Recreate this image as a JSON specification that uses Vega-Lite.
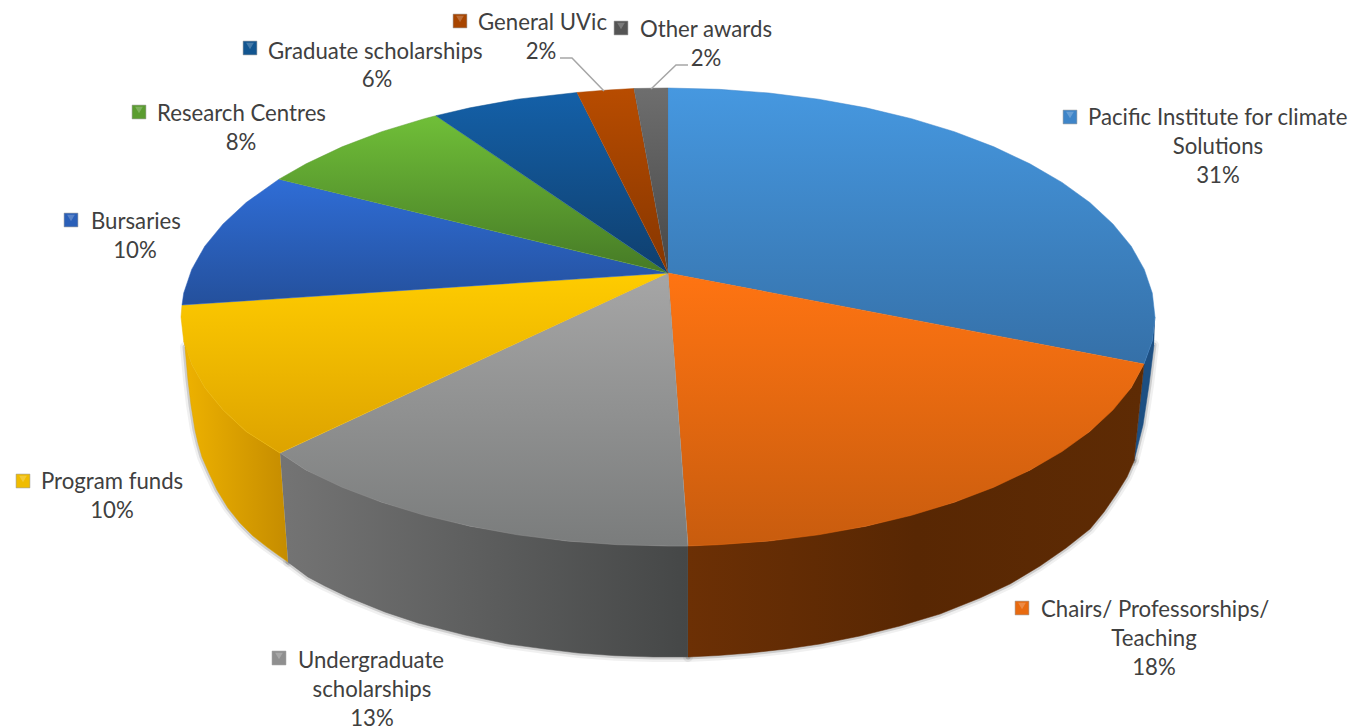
{
"$schema":"https://vega.github.io/schema/vega-lite/v6.json",
"width":1366,"height":727,"padding":0,"autosize":{"type":"none"},"background":"white",
"view":{"stroke":null},
"datasets":{
"outline":[
{"piece":"pacific","i":0,"x":0,"y":0},{"piece":"pacific","i":1,"x":0,"y":185},{"piece":"pacific","i":2,"x":51,"y":183.7},{"piece":"pacific","i":3,"x":101,"y":180},{"piece":"pacific","i":4,"x":150.5,"y":173.8},{"piece":"pacific","i":5,"x":198,"y":165.2},{"piece":"pacific","i":6,"x":243.5,"y":154.3},{"piece":"pacific","i":7,"x":286.3,"y":141.3},{"piece":"pacific","i":8,"x":325.9,"y":126.2},{"piece":"pacific","i":9,"x":361.9,"y":109.2},{"piece":"pacific","i":10,"x":394,"y":90.6},{"piece":"pacific","i":11,"x":421.8,"y":70.5},{"piece":"pacific","i":12,"x":444.9,"y":49.1},{"piece":"pacific","i":13,"x":463.2,"y":26.8},{"piece":"pacific","i":14,"x":476.3,"y":3.6},{"piece":"pacific","i":15,"x":484.3,"y":-20.1},{"piece":"pacific","i":16,"x":487,"y":-44},{"piece":"pacific","i":17,"x":484.3,"y":-67.9},{"piece":"pacific","i":18,"x":476,"y":-91},
{"piece":"chairs","i":0,"x":0,"y":0},{"piece":"chairs","i":1,"x":476,"y":-91},{"piece":"chairs","i":2,"x":463.2,"y":-114.8},{"piece":"chairs","i":3,"x":444.9,"y":-137.1},{"piece":"chairs","i":4,"x":421.8,"y":-158.5},{"piece":"chairs","i":5,"x":394,"y":-178.6},{"piece":"chairs","i":6,"x":361.9,"y":-197.2},{"piece":"chairs","i":7,"x":325.9,"y":-214.2},{"piece":"chairs","i":8,"x":286.3,"y":-229.3},{"piece":"chairs","i":9,"x":243.5,"y":-242.3},{"piece":"chairs","i":10,"x":198,"y":-253.2},{"piece":"chairs","i":11,"x":150.5,"y":-261.8},{"piece":"chairs","i":12,"x":101.2,"y":-268},{"piece":"chairs","i":13,"x":50.9,"y":-271.7},{"piece":"chairs","i":14,"x":20,"y":-273},
{"piece":"undergrad","i":0,"x":0,"y":0},{"piece":"undergrad","i":1,"x":20,"y":-273},{"piece":"undergrad","i":2,"x":0,"y":-273},{"piece":"undergrad","i":3,"x":-50.9,"y":-271.7},{"piece":"undergrad","i":4,"x":-101.2,"y":-268},{"piece":"undergrad","i":5,"x":-150.5,"y":-261.8},{"piece":"undergrad","i":6,"x":-198,"y":-253.2},{"piece":"undergrad","i":7,"x":-243.5,"y":-242.3},{"piece":"undergrad","i":8,"x":-286.3,"y":-229.3},{"piece":"undergrad","i":9,"x":-325.9,"y":-214.2},{"piece":"undergrad","i":10,"x":-361.9,"y":-197.2},{"piece":"undergrad","i":11,"x":-388,"y":-180},
{"piece":"program","i":0,"x":0,"y":0},{"piece":"program","i":1,"x":-388,"y":-180},{"piece":"program","i":2,"x":-421.8,"y":-158.5},{"piece":"program","i":3,"x":-444.9,"y":-137.1},{"piece":"program","i":4,"x":-463.2,"y":-114.8},{"piece":"program","i":5,"x":-476.3,"y":-91.6},{"piece":"program","i":6,"x":-484.3,"y":-67.9},{"piece":"program","i":7,"x":-487,"y":-44},{"piece":"program","i":8,"x":-486,"y":-32},
{"piece":"bursaries","i":0,"x":0,"y":0},{"piece":"bursaries","i":1,"x":-486,"y":-32},{"piece":"bursaries","i":2,"x":-484.3,"y":-20.1},{"piece":"bursaries","i":3,"x":-476.3,"y":3.6},{"piece":"bursaries","i":4,"x":-463.2,"y":26.8},{"piece":"bursaries","i":5,"x":-444.9,"y":49.1},{"piece":"bursaries","i":6,"x":-421.8,"y":70.5},{"piece":"bursaries","i":7,"x":-389,"y":93.8},
{"piece":"research","i":0,"x":0,"y":0},{"piece":"research","i":1,"x":-389,"y":93.8},{"piece":"research","i":2,"x":-361.9,"y":109.2},{"piece":"research","i":3,"x":-325.9,"y":126.2},{"piece":"research","i":4,"x":-286.3,"y":141.3},{"piece":"research","i":5,"x":-243.5,"y":154.3},{"piece":"research","i":6,"x":-232,"y":157.3},
{"piece":"graduate","i":0,"x":0,"y":0},{"piece":"graduate","i":1,"x":-232,"y":157.3},{"piece":"graduate","i":2,"x":-198,"y":165.2},{"piece":"graduate","i":3,"x":-150.5,"y":173.8},{"piece":"graduate","i":4,"x":-91,"y":180.5},
{"piece":"general","i":0,"x":0,"y":0},{"piece":"general","i":1,"x":-91,"y":180.5},{"piece":"general","i":2,"x":-60,"y":183},{"piece":"general","i":3,"x":-34,"y":184.5},
{"piece":"other","i":0,"x":0,"y":0},{"piece":"other","i":1,"x":-34,"y":184.5},{"piece":"other","i":2,"x":0,"y":185},
{"piece":"wall-program","i":0,"x":-484.3,"y":-67.9},{"piece":"wall-program","i":1,"x":-476.3,"y":-91.6},{"piece":"wall-program","i":2,"x":-463.2,"y":-114.8},{"piece":"wall-program","i":3,"x":-444.9,"y":-137.1},{"piece":"wall-program","i":4,"x":-421.8,"y":-158.5},{"piece":"wall-program","i":5,"x":-388,"y":-180},{"piece":"wall-program","i":6,"x":-380,"y":-289},{"piece":"wall-program","i":7,"x":-390,"y":-282},{"piece":"wall-program","i":8,"x":-401,"y":-274},{"piece":"wall-program","i":9,"x":-415,"y":-263},{"piece":"wall-program","i":10,"x":-428,"y":-250},{"piece":"wall-program","i":11,"x":-440,"y":-235},{"piece":"wall-program","i":12,"x":-451,"y":-217},{"piece":"wall-program","i":13,"x":-459,"y":-200},{"piece":"wall-program","i":14,"x":-466,"y":-184},{"piece":"wall-program","i":15,"x":-470,"y":-170},{"piece":"wall-program","i":16,"x":-473,"y":-157},{"piece":"wall-program","i":17,"x":-477,"y":-132},{"piece":"wall-program","i":18,"x":-480,"y":-107},{"piece":"wall-program","i":19,"x":-483,"y":-74},
{"piece":"wall-undergrad","i":0,"x":-388,"y":-180},{"piece":"wall-undergrad","i":1,"x":-361.9,"y":-197.2},{"piece":"wall-undergrad","i":2,"x":-286.3,"y":-229.3},{"piece":"wall-undergrad","i":3,"x":-198,"y":-253.2},{"piece":"wall-undergrad","i":4,"x":-101.2,"y":-268},{"piece":"wall-undergrad","i":5,"x":0,"y":-273},{"piece":"wall-undergrad","i":6,"x":20,"y":-273},{"piece":"wall-undergrad","i":7,"x":20,"y":-384},{"piece":"wall-undergrad","i":8,"x":-15,"y":-384},{"piece":"wall-undergrad","i":9,"x":-53,"y":-382.7},{"piece":"wall-undergrad","i":10,"x":-90,"y":-380},{"piece":"wall-undergrad","i":11,"x":-123,"y":-376},{"piece":"wall-undergrad","i":12,"x":-160,"y":-371},{"piece":"wall-undergrad","i":13,"x":-203,"y":-362},{"piece":"wall-undergrad","i":14,"x":-250,"y":-350},{"piece":"wall-undergrad","i":15,"x":-283,"y":-339},{"piece":"wall-undergrad","i":16,"x":-320,"y":-324},{"piece":"wall-undergrad","i":17,"x":-343,"y":-313},{"piece":"wall-undergrad","i":18,"x":-360,"y":-304},{"piece":"wall-undergrad","i":19,"x":-380,"y":-289},
{"piece":"wall-chairs","i":0,"x":20,"y":-273},{"piece":"wall-chairs","i":1,"x":101.2,"y":-268},{"piece":"wall-chairs","i":2,"x":198,"y":-253.2},{"piece":"wall-chairs","i":3,"x":286.3,"y":-229.3},{"piece":"wall-chairs","i":4,"x":361.9,"y":-197.2},{"piece":"wall-chairs","i":5,"x":421.8,"y":-158.5},{"piece":"wall-chairs","i":6,"x":463.2,"y":-114.8},{"piece":"wall-chairs","i":7,"x":476,"y":-91},{"piece":"wall-chairs","i":8,"x":466,"y":-188},{"piece":"wall-chairs","i":9,"x":459,"y":-204},{"piece":"wall-chairs","i":10,"x":449,"y":-220},{"piece":"wall-chairs","i":11,"x":436,"y":-239},{"piece":"wall-chairs","i":12,"x":422,"y":-256},{"piece":"wall-chairs","i":13,"x":398,"y":-275},{"piece":"wall-chairs","i":14,"x":372,"y":-293},{"piece":"wall-chairs","i":15,"x":342,"y":-311},{"piece":"wall-chairs","i":16,"x":312,"y":-325},{"piece":"wall-chairs","i":17,"x":272,"y":-341},{"piece":"wall-chairs","i":18,"x":232,"y":-353},{"piece":"wall-chairs","i":19,"x":192,"y":-363},{"piece":"wall-chairs","i":20,"x":152,"y":-371},{"piece":"wall-chairs","i":21,"x":118,"y":-376},{"piece":"wall-chairs","i":22,"x":82,"y":-380},{"piece":"wall-chairs","i":23,"x":50,"y":-382.5},{"piece":"wall-chairs","i":24,"x":20,"y":-384},
{"piece":"wall-pacific","i":0,"x":487,"y":-44},{"piece":"wall-pacific","i":1,"x":484.3,"y":-67.9},{"piece":"wall-pacific","i":2,"x":476,"y":-91},{"piece":"wall-pacific","i":3,"x":466,"y":-188},{"piece":"wall-pacific","i":4,"x":475,"y":-152},{"piece":"wall-pacific","i":5,"x":481,"y":-112},{"piece":"wall-pacific","i":6,"x":486,"y":-72}
],
"names":[
{"text":"Pacific Institute for climate","x":420,"y":156},
{"text":"Chairs/ Professorships/","x":373,"y":-336},
{"text":"Undergraduate","x":-370,"y":-387},
{"text":"Program funds","x":-627,"y":-208},
{"text":"Bursaries","x":-577,"y":52},
{"text":"Research Centres","x":-511,"y":160},
{"text":"Graduate scholarships","x":-400,"y":222},
{"text":"General UVic","x":-190,"y":251},
{"text":"Other awards","x":-28,"y":244}
],
"wrapped":[
{"text":"Solutions","x":550,"y":127},
{"text":"Teaching","x":486,"y":-365},
{"text":"scholarships","x":-296,"y":-416}
],
"shares":[
{"category":"Pacific Institute for climate Solutions","share":0.31,"x":550,"y":98},
{"category":"Chairs/ Professorships/ Teaching","share":0.18,"x":486,"y":-394},
{"category":"Undergraduate scholarships","share":0.13,"x":-296,"y":-445},
{"category":"Program funds","share":0.10,"x":-556,"y":-237},
{"category":"Bursaries","share":0.10,"x":-533,"y":23},
{"category":"Research Centres","share":0.08,"x":-427,"y":131},
{"category":"Graduate scholarships","share":0.06,"x":-291,"y":194},
{"category":"General UVic","share":0.02,"x":-127,"y":222},
{"category":"Other awards","share":0.02,"x":38,"y":215}
],
"keys":[
{"category":"pacific","x":402,"y":156},
{"category":"chairs","x":354,"y":-335},
{"category":"undergrad","x":-389,"y":-385},
{"category":"program","x":-645,"y":-208},
{"category":"bursaries","x":-597,"y":53},
{"category":"research","x":-529,"y":161},
{"category":"graduate","x":-418,"y":225},
{"category":"general","x":-208,"y":252},
{"category":"other","x":-47,"y":245}
],
"leaders":[
{"leader":"general","i":0,"x":-108,"y":215},{"leader":"general","i":1,"x":-96,"y":215},{"leader":"general","i":2,"x":-64,"y":182},
{"leader":"other","i":0,"x":20,"y":208},{"leader":"other","i":1,"x":8,"y":208},{"leader":"other","i":2,"x":-17,"y":184}
]
},
"data":{"name":"outline"},
"encoding":{
"x":{"field":"x","type":"quantitative","axis":null,"scale":{"domain":[-668,698],"nice":false,"zero":false}},
"y":{"field":"y","type":"quantitative","axis":null,"scale":{"domain":[-454,273],"nice":false,"zero":false}}
},
"layer":[
{"transform":[{"filter":"(datum.piece=='wall-program'&&datum.i>=6)||(datum.piece=='wall-undergrad'&&datum.i>=7)||(datum.piece=='wall-chairs'&&datum.i>=8)||(datum.piece=='wall-pacific'&&datum.i>=3)"}],"mark":{"type":"line","stroke":"#000000","strokeOpacity":0.06,"strokeWidth":10,"fill":null,"strokeCap":"round","strokeJoin":"round"},"encoding":{"order":{"field":"i","type":"quantitative"},"detail":{"field":"piece"}}},
{"transform":[{"filter":"(datum.piece=='wall-program'&&datum.i>=6)||(datum.piece=='wall-undergrad'&&datum.i>=7)||(datum.piece=='wall-chairs'&&datum.i>=8)||(datum.piece=='wall-pacific'&&datum.i>=3)"}],"mark":{"type":"line","stroke":"#000000","strokeOpacity":0.14,"strokeWidth":5,"fill":null,"strokeCap":"round","strokeJoin":"round"},"encoding":{"order":{"field":"i","type":"quantitative"},"detail":{"field":"piece"}}},
{"transform":[{"filter":"datum.piece=='wall-pacific'"}],"mark":{"type":"line","stroke":"#1d4f82","strokeWidth":0.5,"fill":"#1d4f82"},"encoding":{"order":{"field":"i","type":"quantitative"}}},
{"transform":[{"filter":"datum.piece=='wall-program'"}],"mark":{"type":"line","stroke":"#dca400","strokeWidth":0.5,"fill":{"gradient":"linear","x1":0,"y1":0,"x2":1,"y2":0,"stops":[{"offset":0,"color":"#eeb200"},{"offset":1,"color":"#c58c00"}]}},"encoding":{"order":{"field":"i","type":"quantitative"}}},
{"transform":[{"filter":"datum.piece=='wall-undergrad'"}],"mark":{"type":"line","stroke":"#5c5c5c","strokeWidth":0.5,"fill":{"gradient":"linear","x1":0,"y1":0,"x2":1,"y2":0,"stops":[{"offset":0,"color":"#747474"},{"offset":1,"color":"#454747"}]}},"encoding":{"order":{"field":"i","type":"quantitative"}}},
{"transform":[{"filter":"datum.piece=='wall-chairs'"}],"mark":{"type":"line","stroke":"#602b05","strokeWidth":0.5,"fill":{"gradient":"linear","x1":0,"y1":0,"x2":1,"y2":0,"stops":[{"offset":0,"color":"#6c3005"},{"offset":0.5,"color":"#582703"},{"offset":1,"color":"#5e2b04"}]}},"encoding":{"order":{"field":"i","type":"quantitative"}}},
{"transform":[{"filter":"datum.piece=='pacific'"}],"mark":{"type":"line","stroke":"#3f85c8","strokeWidth":0.5,"fill":{"gradient":"linear","x1":0,"y1":0,"x2":0,"y2":1,"stops":[{"offset":0,"color":"#4698e0"},{"offset":1,"color":"#3570a8"}]}},"encoding":{"order":{"field":"i","type":"quantitative"}}},
{"transform":[{"filter":"datum.piece=='chairs'"}],"mark":{"type":"line","stroke":"#e86a10","strokeWidth":0.5,"fill":{"gradient":"linear","x1":0,"y1":0,"x2":0,"y2":1,"stops":[{"offset":0,"color":"#ff7412"},{"offset":1,"color":"#c85c0e"}]}},"encoding":{"order":{"field":"i","type":"quantitative"}}},
{"transform":[{"filter":"datum.piece=='undergrad'"}],"mark":{"type":"line","stroke":"#909090","strokeWidth":0.5,"fill":{"gradient":"linear","x1":0,"y1":0,"x2":0,"y2":1,"stops":[{"offset":0,"color":"#a6a6a6"},{"offset":1,"color":"#7a7c7c"}]}},"encoding":{"order":{"field":"i","type":"quantitative"}}},
{"transform":[{"filter":"datum.piece=='program'"}],"mark":{"type":"line","stroke":"#efb800","strokeWidth":0.5,"fill":{"gradient":"linear","x1":0,"y1":0,"x2":0,"y2":1,"stops":[{"offset":0,"color":"#ffcc00"},{"offset":1,"color":"#dda300"}]}},"encoding":{"order":{"field":"i","type":"quantitative"}}},
{"transform":[{"filter":"datum.piece=='bursaries'"}],"mark":{"type":"line","stroke":"#2a5fb8","strokeWidth":0.5,"fill":{"gradient":"linear","x1":0,"y1":0,"x2":0,"y2":1,"stops":[{"offset":0,"color":"#2f6dd6"},{"offset":1,"color":"#24509c"}]}},"encoding":{"order":{"field":"i","type":"quantitative"}}},
{"transform":[{"filter":"datum.piece=='research'"}],"mark":{"type":"line","stroke":"#5a9c30","strokeWidth":0.5,"fill":{"gradient":"linear","x1":0,"y1":0,"x2":0,"y2":1,"stops":[{"offset":0,"color":"#70bf38"},{"offset":1,"color":"#467a26"}]}},"encoding":{"order":{"field":"i","type":"quantitative"}}},
{"transform":[{"filter":"datum.piece=='graduate'"}],"mark":{"type":"line","stroke":"#125590","strokeWidth":0.5,"fill":{"gradient":"linear","x1":0,"y1":0,"x2":0,"y2":1,"stops":[{"offset":0,"color":"#1460a8"},{"offset":1,"color":"#0f3f6e"}]}},"encoding":{"order":{"field":"i","type":"quantitative"}}},
{"transform":[{"filter":"datum.piece=='general'"}],"mark":{"type":"line","stroke":"#a84500","strokeWidth":0.5,"fill":{"gradient":"linear","x1":0,"y1":0,"x2":0,"y2":1,"stops":[{"offset":0,"color":"#b84c00"},{"offset":1,"color":"#863600"}]}},"encoding":{"order":{"field":"i","type":"quantitative"}}},
{"transform":[{"filter":"datum.piece=='other'"}],"mark":{"type":"line","stroke":"#5e5e5e","strokeWidth":0.5,"fill":{"gradient":"linear","x1":0,"y1":0,"x2":0,"y2":1,"stops":[{"offset":0,"color":"#6e6e6e"},{"offset":1,"color":"#474747"}]}},"encoding":{"order":{"field":"i","type":"quantitative"}}},
{"data":{"name":"leaders"},"mark":{"type":"line","stroke":"#a6a6a6","strokeWidth":1.5},"encoding":{"order":{"field":"i","type":"quantitative"},"detail":{"field":"leader"}}},
{"data":{"name":"keys"},"mark":{"type":"point","shape":"square","filled":true,"size":190,"opacity":1,"stroke":"#8a8a8a","strokeWidth":0.5},"encoding":{"color":{"field":"category","type":"nominal","legend":null,"scale":{"domain":["pacific","chairs","undergrad","program","bursaries","research","graduate","general","other"],"range":["#3f85c8","#e86a10","#8f8f8f","#f0bc00","#2a5fb8","#5a9c30","#125590","#a84500","#555555"]}}}},
{"data":{"name":"keys"},"mark":{"type":"point","shape":"triangle-down","filled":true,"size":60,"opacity":0.22,"color":"#ffffff","yOffset":-2}},
{"data":{"name":"names"},"mark":{"type":"text","font":"Lato","fontSize":22.2,"fill":"#404040","align":"left","baseline":"middle","dy":1},"encoding":{"text":{"field":"text"}}},
{"data":{"name":"wrapped"},"mark":{"type":"text","font":"Lato","fontSize":22.2,"fill":"#404040","align":"center","baseline":"middle","dy":1},"encoding":{"text":{"field":"text"}}},
{"data":{"name":"shares"},"mark":{"type":"text","font":"Lato","fontSize":22.2,"fill":"#404040","align":"center","baseline":"middle","dy":1},"encoding":{"text":{"field":"share","type":"quantitative","format":".0%"}}}
]
}
